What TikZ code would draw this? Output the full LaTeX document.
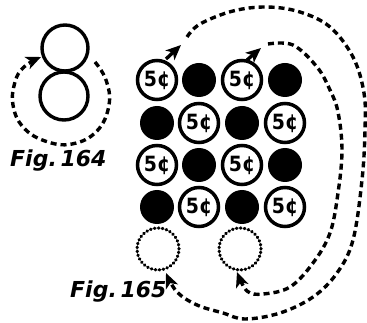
\documentclass[tikz,border=0pt]{standalone}
\usepackage{fontspec}
\newfontfamily\coinfont{DejaVu Sans Condensed}
\newfontfamily\capfont{DejaVu Sans}
\usetikzlibrary{arrows.meta}
\begin{document}
\begin{tikzpicture}[x=1pt,y=-1pt,
  coin/.style={circle, draw, line width=3.5pt, minimum size=39pt, inner sep=0pt,
    font=\coinfont\bfseries\fontsize{21}{21}\selectfont},
  blackcoin/.style={circle, fill, minimum size=34pt, inner sep=0pt},
  ghost/.style={circle, draw, line width=3.2pt, dash pattern=on 0.6pt off 3.4pt,
    line cap=round, minimum size=42pt, inner sep=0pt},
  ring/.style={circle, draw, line width=3.4pt, inner sep=0pt},
  trail/.style={line width=3.4pt, dash pattern=on 6pt off 4pt},
  tipend/.style={-{Stealth[length=15pt,width=13pt,inset=4pt]}},
  caption/.style={font=\capfont\bfseries\itshape\fontsize{22}{22}\selectfont, anchor=base west, inner sep=0pt}]
\useasboundingbox (0,0) rectangle (367,323);

% Fig. 164
\node[ring, minimum size=46pt] (up) at (65,48) {};
\node[ring, minimum size=48pt] (lo) at (64,96) {};
\coordinate (a0) at (95,62);
\coordinate (a1) at (41,57);
\draw[trail, tipend] plot[smooth, tension=0.7] coordinates
  {(a0) (106,80) (109,105) (97,131) (72,144) (45,141) (23,127) (13,105) (15,82) (24,67) (a1)};
\node[caption] (f164) at (10,167) {Fig.\,164};

% Fig. 165 coins
\node[coin] (c11) at (157,80) {5¢};
\node[blackcoin] (c12) at (199,80) {};
\node[coin] (c13) at (242,80) {5¢};
\node[blackcoin] (c14) at (285,80) {};
\node[blackcoin] (c21) at (157,123) {};
\node[coin] (c22) at (199,123) {5¢};
\node[blackcoin] (c23) at (242,123) {};
\node[coin] (c24) at (285,123) {5¢};
\node[coin] (c31) at (157,165) {5¢};
\node[blackcoin] (c32) at (199,165) {};
\node[coin] (c33) at (242,165) {5¢};
\node[blackcoin] (c34) at (285,165) {};
\node[blackcoin] (c41) at (157,207) {};
\node[coin] (c42) at (199,207) {5¢};
\node[blackcoin] (c43) at (242,207) {};
\node[coin] (c44) at (285,207) {5¢};
\node[ghost] (g1) at (158,249) {};
\node[ghost] (g2) at (240,249) {};

% outer trail: c11 -> g1
\coordinate (o0) at (166,59);
\coordinate (o1) at (181,45);
\draw[line width=3.4pt, tipend] (o0) -- (o1);
\coordinate (oe) at (166,273);
\draw[trail, tipend] plot[smooth, tension=0.6] coordinates
  {(187,37) (200,24) (233,11) (267,7) (300,12) (330,27) (353,57) (364,93) (365,130) (362,180)
   (353,240) (337,273) (313,297) (280,313) (245,319) (223,313) (197,305) (177,292) (oe)};

% inner trail: c13 -> g2
\coordinate (i0) at (247,60);
\coordinate (i1) at (261,48);
\draw[line width=3.4pt, tipend] (i0) -- (i1);
\coordinate (ie) at (237,272);
\draw[trail, tipend] plot[smooth, tension=0.6] coordinates
  {(268,44) (293,45) (317,67) (330,90) (338,112) (342,150) (338,193) (330,233) (313,263)
   (290,287) (263,294) (247,291) (ie)};

\node[caption] (f165) at (70,298) {Fig.\,165};
\end{tikzpicture}
\end{document}
